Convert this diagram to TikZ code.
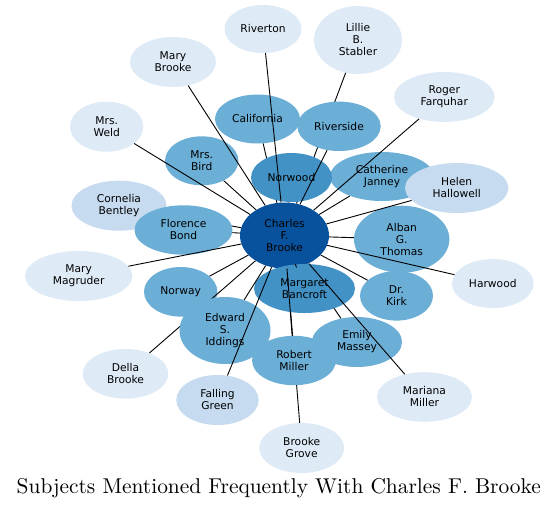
\documentclass[tikz,border=0pt]{standalone}
\usepackage{fontspec}
\usepackage{graphicx}
\newfontfamily\nodefnt{DejaVu Sans}
\usetikzlibrary{shapes.geometric}
\pgfdeclarelayer{nodesbelow}
\pgfdeclarelayer{edgesbelow}
\pgfdeclarelayer{nodesabove}
\pgfsetlayers{nodesbelow,edgesbelow,nodesabove,main}
\definecolor{bA}{HTML}{08519C}
\definecolor{bB}{HTML}{4292C6}
\definecolor{bC}{HTML}{6BAED6}
\definecolor{bD}{HTML}{C6DBEF}
\definecolor{bE}{HTML}{DEEBF7}
\tikzset{
  ell/.style 2 args={ellipse, minimum width=#1, minimum height=#2, inner sep=0pt,
    draw=none, align=center, text=black,
    font=\nodefnt\fontsize{10.7}{12}\selectfont},
  link/.style={draw=black, line width=0.9pt}
}
\begin{document}
\begin{tikzpicture}[x=1pt,y=-1pt]
\begin{pgfonlayer}{nodesbelow}
\path[use as bounding box, fill=white] (0,0) rectangle (559,509);
\node[ell={89}{66}, fill=bA] (charles) at (284.5,235.5) {Charles\\F.\\Brooke};
\node[ell={77}{48}, fill=bE] (riverton) at (263,29) {Riverton};
\node[ell={88}{68}, fill=bE] (lillie) at (358,40) {Lillie\\B.\\Stabler};
\node[ell={86}{50}, fill=bE] (marybrooke) at (173,62) {Mary\\Brooke};
\node[ell={100.6}{50}, fill=bE] (roger) at (444.3,97) {Roger\\Farquhar};
\node[ell={73.4}{50}, fill=bE] (weld) at (106.7,126.7) {Mrs.\\Weld};
\node[ell={85}{49}, fill=bC] (california) at (257.5,119) {California};
\node[ell={73.4}{49}, fill=bC] (bird) at (201.7,160.8) {Mrs.\\Bird};
\node[ell={104}{49}, fill=bC] (catherine) at (382,176.5) {Catherine\\Janney};
\node[ell={95}{50}, fill=bD] (cornelia) at (119,205.7) {Cornelia\\Bentley};
\node[ell={95.4}{67}, fill=bC] (alban) at (401.7,239.2) {Alban\\G.\\Thomas};
\node[ell={107.4}{50}, fill=bE] (magruder) at (78.7,276) {Mary\\Magruder};
\node[ell={81.6}{49}, fill=bE] (harwood) at (492.8,283.5) {Harwood};
\node[ell={73.4}{49.6}, fill=bC] (norway) at (180.7,291.8) {Norway};
\node[ell={73}{49.6}, fill=bC] (kirk) at (396.5,295.8) {Dr.\\Kirk};
\node[ell={90}{50}, fill=bC] (emily) at (357,342) {Emily\\Massey};
\node[ell={85.6}{49.6}, fill=bE] (della) at (125.5,373.8) {Della\\Brooke};
\node[ell={82.4}{50}, fill=bD] (falling) at (217.5,400) {Falling\\Green};
\node[ell={95}{49.6}, fill=bE] (mariana) at (424.5,397) {Mariana\\Miller};
\node[ell={85}{50}, fill=bE] (grove) at (301.7,448) {Brooke\\Grove};
\end{pgfonlayer}
\begin{pgfonlayer}{edgesbelow}
\draw[link] (charles) -- (lillie);
\draw[link] (charles) -- (california);
\draw[link] (charles) -- (cornelia);
\draw[link] (charles) -- (della);
\draw[link] (charles) -- (emily);
\draw[link] (charles) -- (grove);
\end{pgfonlayer}
\begin{pgfonlayer}{nodesabove}
\node[ell={83.4}{49.4}, fill=bC] (riverside) at (339,126.3) {Riverside};
\node[ell={81}{49}, fill=bB] (norwood) at (291.5,177.5) {Norwood};
\node[ell={103.4}{50}, fill=bD] (helen) at (456.7,188) {Helen\\Hallowell};
\node[ell={98}{49.4}, fill=bC] (florence) at (183.5,230) {Florence\\Bond};
\node[ell={91}{67}, fill=bC] (edward) at (225,330.5) {Edward\\S.\\Iddings};
\node[ell={101}{49}, fill=bB] (margaret) at (304.5,288.5) {Margaret\\Bancroft};
\node[ell={84}{49.4}, fill=bC] (robert) at (294,360.5) {Robert\\Miller};
\end{pgfonlayer}
\draw[link] (charles) -- (riverton);
\draw[link] (charles) -- (marybrooke);
\draw[link] (charles) -- (roger);
\draw[link] (charles) -- (weld);
\draw[link] (charles) -- (riverside);
\draw[link] (charles) -- (bird);
\draw[link] (charles) -- (norwood);
\draw[link] (charles) -- (catherine);
\draw[link] (charles) -- (helen);
\draw[link] (charles) -- (florence);
\draw[link] (charles) -- (alban);
\draw[link] (charles) -- (magruder);
\draw[link] (charles) -- (harwood);
\draw[link] (charles) -- (norway);
\draw[link] (charles) -- (margaret);
\draw[link] (charles) -- (kirk);
\draw[link] (charles) -- (edward);
\draw[link] (charles) -- (falling);
\draw[link] (charles) -- (robert);
\draw[link] (charles) -- (mariana);
\node[anchor=base, inner sep=0pt, font=\fontsize{10}{12}\selectfont] (title) at (278.8,493.3)
  {\resizebox{524pt}{!}{Subjects Mentioned Frequently With Charles F. Brooke}};
\end{tikzpicture}
\end{document}
